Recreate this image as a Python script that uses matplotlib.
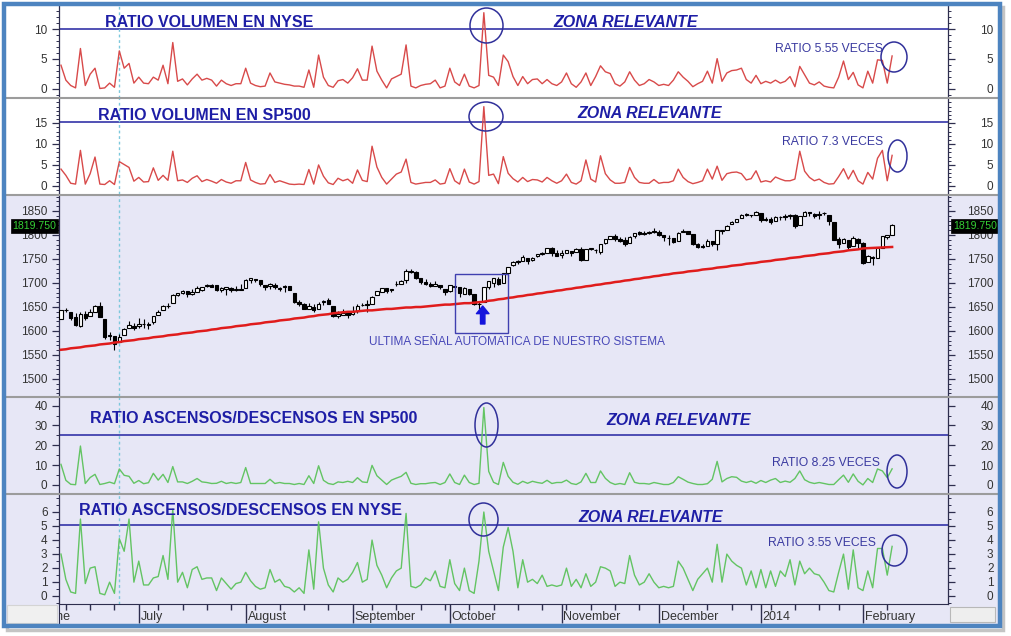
import numpy as np
import pandas as pd
import matplotlib
matplotlib.use('Agg')
import matplotlib.pyplot as plt
from matplotlib.patches import Rectangle, Ellipse, FancyArrowPatch
from matplotlib.lines import Line2D
from matplotlib.ticker import MultipleLocator, FixedLocator

plt.rcParams['font.family'] = ['Liberation Sans', 'DejaVu Sans']

# ---------------- DATA ----------------
HOLIDAYS = ['2013-07-04', '2013-09-02', '2013-11-28', '2013-12-25', '2014-01-01', '2014-01-20']
START, END = '2013-06-07', '2014-02-11'

MONTH_LABELS = ['June', 'July', 'August', 'September', 'October', 'November', 'December', '2014', 'February']

# Ratio volumen (up/down) NYSE
VOL_NYSE = [
    4.0, 1.5, 0.6, 0.2, 6.8, 0.6, 2.5, 3.5, 0.1, 0.2,
    1.0, 0.3, 6.4, 3.5, 4.3, 1.0, 2.0, 1.0, 0.9, 2.0,
    1.5, 4.0, 0.9, 7.8, 1.3, 1.7, 0.7, 1.7, 2.5, 1.5,
    1.8, 1.5, 0.5, 1.5, 0.9, 0.6, 0.9, 0.9, 3.5, 1.0,
    0.6, 0.4, 0.5, 2.7, 1.2, 1.0, 0.8, 0.7, 0.5, 0.5,
    0.3, 3.2, 0.3, 5.7, 2.0, 0.6, 0.3, 1.4, 1.6, 1.0,
    1.9, 3.4, 1.5, 1.5, 7.2, 3.0, 1.5, 0.2, 1.7, 2.1,
    2.5, 7.4, 0.5, 0.2, 0.6, 0.8, 0.9, 1.5, 0.2, 0.5,
    3.5, 1.2, 0.6, 2.5, 0.5, 0.2, 0.6, 12.8, 2.3, 2.0,
    0.6, 5.7, 4.6, 2.1, 0.6, 2.1, 0.9, 1.6, 1.7, 0.9,
    1.6, 0.9, 0.6, 1.2, 2.7, 0.9, 0.3, 1.2, 2.7, 0.6,
    2.1, 3.9, 2.9, 2.6, 0.9, 0.5, 1.2, 2.9, 1.5, 0.6,
    0.9, 1.6, 1.2, 0.6, 0.8, 0.6, 1.5, 2.9, 2.0, 1.3,
    0.4, 0.9, 1.3, 3.0, 1.0, 5.1, 1.3, 2.7, 3.1, 3.2,
    3.5, 1.6, 1.0, 2.3, 0.9, 1.3, 1.0, 1.5, 1.0, 1.3,
    2.1, 0.4, 3.8, 2.4, 1.0, 0.7, 1.2, 0.5, 0.3, 0.2,
    2.0, 4.7, 1.6, 2.8, 0.7, 0.2, 3.0, 1.0, 4.9, 4.8,
    1.0, 5.55]

# Ratio volumen SP500
VOL_SP500 = [
    4.0, 2.5, 0.6, 0.4, 8.5, 0.4, 2.9, 6.9, 0.4, 0.3,
    1.2, 0.3, 5.8, 5.1, 4.4, 1.1, 2.0, 0.9, 1.0, 4.3,
    1.3, 2.5, 1.3, 8.3, 1.2, 1.4, 0.8, 1.8, 2.4, 1.0,
    1.5, 1.1, 0.6, 1.5, 0.9, 0.6, 1.2, 1.2, 5.6, 1.4,
    0.8, 0.4, 0.5, 2.7, 0.8, 1.2, 0.8, 0.4, 0.3, 0.4,
    0.3, 3.9, 0.4, 5.0, 2.3, 0.7, 0.3, 1.8, 1.2, 1.6,
    0.6, 3.8, 1.3, 1.0, 9.5, 4.5, 2.0, 0.4, 1.6, 2.8,
    3.3, 6.4, 0.8, 0.4, 0.6, 0.8, 0.8, 1.4, 0.4, 0.6,
    4.1, 1.2, 0.4, 4.0, 0.9, 0.4, 1.0, 19.0, 2.5, 2.8,
    0.5, 7.0, 3.0, 1.7, 0.9, 2.0, 1.0, 1.5, 1.4, 0.9,
    2.0, 1.2, 0.6, 1.2, 2.8, 0.8, 0.4, 1.2, 6.2, 1.6,
    0.9, 7.2, 2.9, 1.4, 0.6, 0.6, 0.8, 4.4, 2.0, 0.8,
    0.6, 0.6, 1.5, 0.6, 0.8, 0.8, 1.2, 4.0, 2.0, 1.0,
    0.5, 0.8, 1.2, 4.0, 1.6, 4.7, 1.3, 2.9, 3.2, 3.3,
    2.9, 1.4, 1.7, 3.6, 0.9, 1.2, 0.9, 2.1, 1.6, 1.2,
    1.2, 1.6, 8.3, 3.5, 2.0, 1.2, 1.6, 0.8, 0.4, 0.5,
    2.2, 4.1, 1.6, 3.7, 1.2, 0.4, 3.2, 1.6, 6.6, 8.5,
    1.2, 7.3]

# Ratio ascensos/descensos SP500
AD_SP500 = [
    10.5, 2.5, 0.5, 0.3, 19.7, 0.9, 3.9, 5.5, 0.4, 0.9,
    1.6, 0.8, 8.2, 5.0, 4.5, 1.0, 2.4, 0.8, 1.3, 6.0,
    2.6, 5.5, 1.4, 9.4, 1.7, 1.7, 0.9, 2.0, 3.4, 1.7,
    1.4, 0.9, 1.0, 2.0, 0.9, 1.4, 0.9, 1.4, 8.9, 0.9,
    0.9, 0.9, 0.9, 3.0, 0.9, 1.4, 0.9, 0.9, 0.4, 0.9,
    0.4, 4.8, 0.9, 9.8, 2.5, 0.9, 0.4, 1.7, 1.4, 2.0,
    1.4, 3.8, 1.7, 1.4, 10.0, 4.8, 2.6, 0.4, 2.6, 3.6,
    4.5, 6.5, 1.0, 0.4, 0.8, 0.8, 1.2, 1.4, 0.4, 1.4,
    5.7, 1.4, 0.4, 5.1, 1.4, 0.4, 1.0, 39.0, 7.0, 1.5,
    0.4, 11.5, 4.5, 1.5, 0.5, 2.0, 1.0, 2.0, 1.4, 1.0,
    2.5, 0.9, 1.4, 1.4, 2.6, 0.9, 0.4, 1.7, 6.0, 1.4,
    1.4, 7.2, 3.5, 1.4, 0.4, 0.9, 0.4, 6.3, 1.5, 0.9,
    0.9, 0.6, 1.4, 0.9, 0.4, 0.4, 1.4, 4.3, 3.0, 1.6,
    0.9, 0.4, 0.4, 0.8, 3.0, 12.0, 1.7, 3.4, 4.3, 4.0,
    2.1, 1.4, 2.1, 1.0, 2.4, 1.4, 2.6, 3.4, 1.4, 2.1,
    1.5, 3.4, 7.2, 2.8, 1.5, 0.9, 1.4, 0.9, 0.4, 0.4,
    2.8, 5.1, 1.5, 5.7, 2.0, 0.2, 3.4, 1.4, 8.2, 7.2,
    3.8, 8.25]

# Ratio ascensos/descensos NYSE
AD_NYSE = [
    3.0, 1.2, 0.3, 0.2, 5.5, 0.9, 2.0, 2.1, 0.2, 0.1,
    1.0, 0.2, 4.1, 3.2, 5.5, 1.0, 2.5, 0.8, 0.8, 1.3,
    1.4, 2.9, 1.2, 6.2, 1.0, 1.7, 0.6, 1.9, 2.1, 1.2,
    1.3, 1.3, 0.4, 1.3, 0.9, 0.5, 0.9, 1.0, 1.7, 1.1,
    0.7, 0.5, 0.6, 1.9, 1.0, 1.2, 0.7, 0.6, 0.3, 0.6,
    0.2, 3.3, 0.5, 5.3, 2.0, 0.8, 0.3, 1.3, 1.0, 1.2,
    1.7, 2.4, 1.0, 1.2, 4.0, 2.2, 1.5, 0.6, 1.3, 1.8,
    2.0, 5.9, 0.7, 0.6, 0.8, 1.3, 1.1, 1.8, 0.7, 0.6,
    2.6, 0.9, 0.4, 2.0, 0.4, 0.2, 2.5, 6.0, 3.2, 1.8,
    0.4, 3.5, 4.9, 3.2, 0.6, 2.6, 1.0, 1.2, 0.9, 1.5,
    0.7, 0.8, 0.7, 0.8, 2.0, 0.7, 1.2, 0.6, 1.6, 0.7,
    1.0, 2.1, 2.0, 1.8, 0.7, 1.0, 0.9, 2.9, 1.5, 0.8,
    1.0, 1.6, 1.0, 0.6, 0.7, 0.6, 0.7, 2.5, 2.0, 1.2,
    0.4, 1.2, 1.6, 2.0, 1.0, 3.7, 1.0, 3.0, 2.5, 2.2,
    2.0, 0.8, 1.8, 0.6, 1.9, 0.6, 1.8, 0.7, 1.8, 1.4,
    2.6, 0.8, 2.5, 1.6, 2.0, 1.6, 1.5, 1.0, 0.4, 0.3,
    1.7, 3.0, 0.5, 3.3, 0.6, 0.4, 1.8, 0.6, 3.4, 3.4,
    1.5, 3.55]

# S&P 500 daily candles
OPEN = [
    1625.3, 1644.7, 1638.6, 1629.9, 1609.9, 1635.5, 1630.6, 1639.8, 1651.8, 1624.6,
    1588.6, 1588.8, 1577.5, 1592.3, 1606.4, 1611.1, 1609.8, 1614.3, 1611.5, 1618.7,
    1634.2, 1642.9, 1651.6, 1657.4, 1675.3, 1679.6, 1682.7, 1677.9, 1681.0, 1686.2,
    1694.4, 1696.1, 1696.1, 1685.2, 1687.3, 1690.3, 1685.9, 1686.5, 1689.4, 1706.1,
    1708.0, 1705.8, 1695.5, 1693.4, 1696.1, 1688.4, 1690.7, 1693.4, 1679.6, 1661.2,
    1655.3, 1646.8, 1650.7, 1645.0, 1659.9, 1664.3, 1652.5, 1630.3, 1633.5, 1638.9,
    1635.9, 1640.7, 1653.3, 1656.0, 1656.9, 1675.1, 1681.0, 1689.2, 1685.0, 1697.7,
    1697.7, 1705.7, 1725.4, 1722.4, 1711.4, 1702.6, 1698.0, 1694.1, 1695.5, 1687.3,
    1682.4, 1691.9, 1692.4, 1677.9, 1687.2, 1676.2, 1657.0, 1660.9, 1691.1, 1699.9,
    1709.2, 1700.5, 1720.2, 1736.7, 1745.2, 1746.5, 1752.3, 1747.5, 1756.0, 1759.4,
    1762.9, 1772.3, 1763.2, 1758.7, 1763.4, 1765.7, 1765.0, 1770.7, 1748.4, 1770.0,
    1769.5, 1764.4, 1782.8, 1790.7, 1798.8, 1790.8, 1789.6, 1783.5, 1797.2, 1806.3,
    1802.9, 1803.5, 1808.0, 1806.6, 1800.1, 1794.1, 1792.8, 1788.4, 1806.6, 1807.6,
    1802.8, 1781.7, 1777.0, 1777.5, 1786.5, 1781.5, 1809.0, 1810.4, 1822.9, 1828.0,
    1835.0, 1843.0, 1841.5, 1842.6, 1845.9, 1833.2, 1832.3, 1828.7, 1837.9, 1839.0,
    1840.1, 1841.3, 1821.4, 1840.5, 1848.0, 1844.2, 1841.1, 1844.7, 1842.3, 1827.0,
    1791.0, 1783.0, 1790.2, 1777.0, 1790.9, 1782.7, 1743.8, 1753.4, 1753.0, 1773.9,
    1796.2, 1800.5]
HIGH = [
    1644.4, 1648.7, 1640.1, 1637.7, 1640.4, 1640.8, 1646.5, 1654.2, 1660.4, 1624.6,
    1598.2, 1588.8, 1593.8, 1606.8, 1620.1, 1615.9, 1626.6, 1624.3, 1618.9, 1632.1,
    1644.7, 1654.2, 1657.9, 1676.6, 1680.2, 1684.5, 1683.7, 1687.2, 1693.1, 1692.1,
    1697.6, 1698.4, 1696.8, 1690.9, 1691.9, 1690.9, 1693.4, 1698.4, 1707.9, 1709.7,
    1709.2, 1705.8, 1695.5, 1700.2, 1699.4, 1691.5, 1696.8, 1693.4, 1679.6, 1663.6,
    1659.2, 1658.9, 1656.9, 1659.6, 1664.9, 1669.5, 1652.5, 1641.2, 1645.0, 1640.1,
    1651.4, 1655.7, 1659.2, 1664.0, 1672.4, 1684.1, 1689.1, 1690.0, 1688.0, 1705.0,
    1705.5, 1729.4, 1729.9, 1725.2, 1711.4, 1707.6, 1701.7, 1703.9, 1695.5, 1687.3,
    1696.6, 1693.9, 1692.4, 1691.6, 1687.2, 1676.8, 1662.5, 1692.6, 1703.4, 1711.0,
    1711.6, 1721.8, 1733.4, 1745.3, 1747.8, 1759.3, 1752.3, 1753.6, 1759.8, 1765.0,
    1772.1, 1775.2, 1768.5, 1768.0, 1768.8, 1767.0, 1773.7, 1774.5, 1770.8, 1773.4,
    1771.8, 1782.0, 1791.5, 1798.2, 1802.3, 1795.5, 1795.7, 1798.2, 1804.8, 1808.1,
    1808.4, 1808.4, 1813.6, 1810.0, 1800.1, 1799.8, 1792.8, 1806.0, 1811.5, 1808.5,
    1803.0, 1783.0, 1780.9, 1792.2, 1786.8, 1811.1, 1810.9, 1820.0, 1829.8, 1833.3,
    1842.8, 1844.9, 1842.5, 1849.4, 1845.9, 1838.2, 1837.2, 1840.1, 1840.0, 1843.2,
    1843.8, 1843.5, 1839.3, 1850.8, 1848.0, 1846.0, 1849.3, 1846.9, 1842.3, 1827.0,
    1796.0, 1793.9, 1790.2, 1798.8, 1793.9, 1784.8, 1758.7, 1755.8, 1774.1, 1798.0,
    1799.9, 1823.5]
LOW = [
    1625.3, 1639.3, 1622.9, 1610.9, 1608.1, 1623.0, 1630.3, 1639.8, 1628.9, 1584.3,
    1581.3, 1560.3, 1577.1, 1592.3, 1606.4, 1601.5, 1606.5, 1606.8, 1604.6, 1614.7,
    1634.2, 1642.9, 1647.7, 1657.4, 1672.3, 1677.9, 1671.8, 1675.2, 1681.0, 1684.1,
    1690.7, 1691.8, 1684.0, 1680.7, 1676.0, 1681.9, 1682.9, 1684.9, 1689.4, 1700.7,
    1701.6, 1693.3, 1684.9, 1687.4, 1688.0, 1683.4, 1682.2, 1684.8, 1658.6, 1652.6,
    1646.1, 1646.1, 1639.4, 1645.0, 1653.7, 1656.0, 1629.1, 1627.5, 1633.5, 1628.1,
    1633.4, 1637.4, 1653.1, 1640.6, 1656.9, 1675.1, 1681.0, 1678.7, 1682.2, 1693.6,
    1697.7, 1700.4, 1721.1, 1708.9, 1697.1, 1694.9, 1691.9, 1693.1, 1687.1, 1675.0,
    1682.1, 1680.3, 1670.4, 1677.9, 1675.0, 1655.0, 1646.5, 1660.9, 1688.1, 1692.1,
    1695.5, 1700.5, 1714.1, 1735.7, 1740.2, 1746.5, 1740.5, 1745.5, 1753.6, 1757.7,
    1762.9, 1757.2, 1755.7, 1752.7, 1761.6, 1755.8, 1764.4, 1746.2, 1747.6, 1767.8,
    1762.5, 1760.6, 1780.2, 1790.7, 1788.4, 1784.7, 1777.2, 1783.5, 1794.7, 1800.6,
    1800.8, 1802.8, 1803.8, 1798.6, 1787.9, 1779.1, 1783.4, 1788.4, 1806.6, 1801.8,
    1780.1, 1772.3, 1772.4, 1777.5, 1777.2, 1768.0, 1801.7, 1810.4, 1822.9, 1828.0,
    1835.0, 1838.8, 1837.2, 1842.4, 1827.7, 1829.1, 1823.7, 1828.7, 1831.4, 1830.4,
    1834.2, 1815.5, 1821.4, 1840.5, 1840.3, 1835.2, 1832.4, 1840.9, 1820.1, 1790.3,
    1772.9, 1783.0, 1770.6, 1777.0, 1772.3, 1739.7, 1743.8, 1737.9, 1752.6, 1773.9,
    1791.8, 1800.5]
CLOSE = [
    1643.4, 1642.8, 1626.7, 1612.5, 1636.4, 1626.7, 1639.0, 1651.8, 1628.9, 1588.2,
    1592.4, 1573.1, 1588.0, 1603.3, 1613.2, 1606.3, 1614.1, 1614.1, 1615.4, 1631.9,
    1640.5, 1652.3, 1652.6, 1675.0, 1680.2, 1682.5, 1676.3, 1680.9, 1689.4, 1692.1,
    1695.5, 1692.4, 1685.9, 1690.3, 1691.6, 1685.3, 1686.0, 1685.7, 1706.9, 1709.7,
    1707.1, 1697.4, 1690.9, 1697.5, 1691.4, 1689.5, 1694.2, 1685.4, 1661.3, 1655.8,
    1646.1, 1652.4, 1642.8, 1657.0, 1663.5, 1656.8, 1630.5, 1635.0, 1638.2, 1633.0,
    1639.8, 1653.1, 1655.1, 1655.2, 1671.7, 1684.0, 1689.1, 1683.4, 1688.0, 1697.6,
    1704.8, 1725.5, 1722.3, 1709.9, 1701.8, 1697.4, 1692.8, 1698.7, 1691.8, 1681.6,
    1695.0, 1693.9, 1678.7, 1690.5, 1676.1, 1655.5, 1656.4, 1692.6, 1703.2, 1710.1,
    1698.1, 1721.5, 1733.2, 1744.5, 1744.7, 1754.7, 1746.4, 1752.1, 1759.8, 1762.1,
    1772.0, 1763.3, 1756.5, 1761.6, 1767.9, 1763.0, 1770.5, 1747.2, 1770.6, 1771.9,
    1767.7, 1782.0, 1790.6, 1798.2, 1791.5, 1787.9, 1781.4, 1795.9, 1804.8, 1802.5,
    1802.8, 1807.2, 1805.8, 1800.9, 1795.2, 1792.8, 1785.0, 1805.1, 1808.4, 1802.6,
    1782.2, 1775.5, 1775.3, 1786.5, 1781.0, 1810.7, 1809.6, 1818.3, 1828.0, 1833.3,
    1842.0, 1841.4, 1841.1, 1848.4, 1832.0, 1831.4, 1826.8, 1837.9, 1837.5, 1838.1,
    1842.4, 1819.2, 1838.9, 1848.4, 1845.9, 1838.7, 1843.8, 1844.9, 1828.5, 1790.3,
    1781.6, 1792.5, 1774.2, 1794.2, 1782.6, 1741.9, 1755.2, 1751.6, 1773.4, 1797.0,
    1799.8, 1819.75]

# Long moving average (red line)
MOV_AVG = [
    1561, 1562, 1564, 1565, 1566, 1568, 1569, 1570, 1572, 1573,
    1574, 1576, 1577, 1579, 1580, 1581, 1583, 1584, 1585, 1587,
    1588, 1589, 1591, 1592, 1593, 1595, 1596, 1597, 1599, 1600,
    1601, 1603, 1604, 1606, 1607, 1608, 1610, 1611, 1612, 1614,
    1615, 1616, 1618, 1619, 1620, 1622, 1623, 1624, 1626, 1627,
    1628, 1630, 1631, 1633, 1634, 1635, 1637, 1638, 1639, 1640,
    1640, 1641, 1642, 1643, 1643, 1644, 1645, 1646, 1646, 1647,
    1648, 1649, 1649, 1650, 1650, 1651, 1652, 1653, 1654, 1655,
    1655, 1656, 1657, 1658, 1658, 1659, 1660, 1661, 1663, 1664,
    1666, 1667, 1669, 1670, 1672, 1673, 1675, 1676, 1678, 1679,
    1681, 1682, 1684, 1685, 1687, 1688, 1690, 1691, 1693, 1694,
    1696, 1697, 1699, 1700, 1702, 1703, 1705, 1706, 1708, 1709,
    1711, 1712, 1714, 1715, 1717, 1718, 1720, 1721, 1722, 1724,
    1725, 1726, 1728, 1729, 1730, 1732, 1733, 1734, 1736, 1737,
    1738, 1740, 1741, 1742, 1744, 1745, 1746, 1748, 1749, 1750,
    1752, 1753, 1754, 1756, 1757, 1758, 1760, 1761, 1762, 1764,
    1765, 1766, 1768, 1769, 1770, 1772, 1772.5, 1773, 1773.5, 1774,
    1774.5, 1775]

ZONE_LEVELS = {'p1': 10, 'p2': 15.4, 'p4': 25, 'p5': 5.1}
MARK_DAY = '2013-06-25'

# ---------------- LAYOUT ----------------
W, H = 1012, 636
fig = plt.figure(figsize=(W / 100, H / 100), dpi=100)
fig.patch.set_facecolor('white')


def fx(x):
    return x / W


def fy(y):
    return 1 - y / H


dates = pd.bdate_range(START, END)
dates = dates[~dates.isin(pd.to_datetime(HOLIDAYS))]
n = len(dates)
idx = np.arange(n)

XL, XR = 59, 948
XLIM = (-0.41, 182.5)
LAV = '#e7e7f6'
AXC = '#2e2e4e'
TXT = '#333333'
ZONEC = '#3434a8'
TITC = '#1e1ea6'

rows = [  # top, bottom, background
    (6, 97.5, 'white'),
    (97.5, 194, 'white'),
    (194, 396, LAV),
    (396, 493.5, LAV),
    (493.5, 604, LAV),
    (604, 624, LAV),
]
for t, b, c in rows:
    fig.add_artist(Rectangle((fx(6), fy(b)), (998 - 6) / W, (b - t) / H,
                             transform=fig.transFigure, facecolor=c,
                             edgecolor='none', zorder=-5))


def make_ax(top, bot, ylim, bg, minor, labels, fmt=lambda v: f'{v:g}'):
    ax = fig.add_axes([fx(XL), fy(bot), (XR - XL) / W, (bot - top) / H])
    ax.set_xlim(*XLIM)
    ax.set_ylim(*ylim)
    ax.set_facecolor(bg)
    for s in ['top', 'bottom']:
        ax.spines[s].set_visible(False)
    for s in ['left', 'right']:
        ax.spines[s].set_color(AXC)
        ax.spines[s].set_linewidth(0.9)
    ax.set_xticks([])
    ax.yaxis.set_major_locator(FixedLocator(labels))
    ax.yaxis.set_minor_locator(MultipleLocator(minor))
    ax.tick_params(axis='y', which='both', direction='out', left=True, right=True,
                   labelleft=False, labelright=False, colors=AXC)
    ax.tick_params(axis='y', which='major', length=5, width=0.9)
    ax.tick_params(axis='y', which='minor', length=2.5, width=0.7)
    xl = (47.5 - XL) / (XR - XL)
    xr = (993.5 - XL) / (XR - XL)
    for v in labels:
        for xa in (xl, xr):
            ax.annotate(fmt(v), xy=(xa, v), xycoords=('axes fraction', 'data'),
                        xytext=(0, -3.0), textcoords='offset points',
                        ha='right', va='baseline', fontsize=8.5, color=TXT,
                        annotation_clip=False)
    return ax


ax1 = make_ax(6, 97.5, (-1.41, 13.92), 'white', 1, [0, 5, 10])
ax2 = make_ax(97.5, 194, (-1.98, 21.2), 'white', 1, [0, 5, 10, 15])
ax3 = make_ax(194, 396, (1464.7, 1885.3), LAV, 10, list(range(1500, 1851, 50)))
ax4 = make_ax(396, 493.5, (-4.12, 44.8), LAV, 5, [0, 10, 20, 30, 40])
ax5 = make_ax(493.5, 604, (-0.557, 7.32), LAV, 0.5, [0, 1, 2, 3, 4, 5, 6])

RED = '#d84a4a'
GREEN = '#63c463'
ax1.plot(idx, VOL_NYSE, color=RED, lw=1.0, zorder=3)
ax2.plot(idx, VOL_SP500, color=RED, lw=1.0, zorder=3)
ax4.plot(idx, AD_SP500, color=GREEN, lw=1.0, zorder=3)
ax5.plot(idx, AD_NYSE, color=GREEN, lw=1.0, zorder=3)

ax1.axhline(ZONE_LEVELS['p1'], color=ZONEC, lw=1.2, zorder=2)
ax2.axhline(ZONE_LEVELS['p2'], color=ZONEC, lw=1.2, zorder=2)
ax4.axhline(ZONE_LEVELS['p4'], color=ZONEC, lw=1.2, zorder=2)
ax5.axhline(ZONE_LEVELS['p5'], color=ZONEC, lw=1.2, zorder=2)

# candles
o = np.array(OPEN); h = np.array(HIGH); l = np.array(LOW); c = np.array(CLOSE)
ax3.vlines(idx, l, h, color='black', lw=0.8, zorder=3)
for i in range(n):
    up = c[i] >= o[i]
    lo = min(o[i], c[i])
    ht = max(abs(c[i] - o[i]), 0.8)
    ax3.add_patch(Rectangle((i - 0.36, lo), 0.72, ht,
                            facecolor='white' if up else 'black',
                            edgecolor='black', lw=0.8, zorder=4))
ax3.plot(idx, MOV_AVG, color='#e01c1c', lw=1.8, zorder=5)

# cyan dotted marker line
mark_i = int(np.where(dates == pd.Timestamp(MARK_DAY))[0][0])
for ax in (ax1, ax2, ax3, ax4, ax5):
    ax.axvline(mark_i, color='#7cc8dc', lw=1.0, ls=(0, (2, 2)), zorder=2)

# last price labels
last = CLOSE[-1]
for xa in ((34.5 - XL) / (XR - XL), (975 - XL) / (XR - XL)):
    ax3.annotate(f'{last:.3f}', xy=(xa, last), xycoords=('axes fraction', 'data'),
                 xytext=(0, -0.5), textcoords='offset points',
                 ha='center', va='center', fontsize=7.6, color='#35d035',
                 annotation_clip=False, zorder=8,
                 bbox=dict(boxstyle='square,pad=0.18', fc='black', ec='black', lw=0.5))

# x strip
axx = fig.add_axes([fx(XL), fy(624), (XR - XL) / W, 20 / H])
axx.set_xlim(*XLIM)
axx.set_ylim(0, 1)
axx.set_facecolor(LAV)
for s in ['bottom', 'right']:
    axx.spines[s].set_visible(False)
axx.spines['top'].set_color(AXC)
axx.spines['left'].set_color(AXC)
axx.set_xticks([]); axx.set_yticks([])
months = dates.to_period('M')
m_start = [i for i in range(1, n) if months[i] != months[i - 1]]
weeks = dates.to_period('W')
w_start = [i for i in range(1, n) if weeks[i] != weeks[i - 1] and i not in m_start]
axx.vlines(m_start, 0.05, 1, color=AXC, lw=1.0)
axx.vlines(w_start, 0.72, 1, color=AXC, lw=1.0)
label_pos = [-4] + m_start
for p, lab in zip(label_pos, MONTH_LABELS):
    axx.annotate(lab, xy=(p, 0.2), xycoords='data', xytext=(1.3, 0),
                 textcoords='offset points', ha='left', va='baseline',
                 fontsize=9, color=TXT, annotation_clip=False, clip_on=True)

# bottom corner boxes
fig.add_artist(Rectangle((fx(7), fy(623)), 50 / W, 18 / H, transform=fig.transFigure,
                         facecolor='#f0f0f0', edgecolor='#d4d4d4', lw=0.8, zorder=1))
fig.add_artist(Rectangle((fx(950), fy(622)), 45 / W, 15 / H, transform=fig.transFigure,
                         facecolor='#eeeeee', edgecolor='#b8b8b8', lw=0.8, zorder=1))

# separators
for y in (97.5, 194.5, 396.5, 494):
    fig.add_artist(Line2D([fx(6), fx(998)], [fy(y), fy(y)], transform=fig.transFigure,
                          color='#9c9c9c', lw=1.5, zorder=6))


def ftext(x, yb, s, size, color, weight='normal', style='normal'):
    fig.text(fx(x), fy(yb), s, ha='left', va='baseline', fontsize=size,
             color=color, fontweight=weight, fontstyle=style, zorder=7)


ftext(105, 27, 'RATIO VOLUMEN EN NYSE', 11.5, TITC, 'bold')
ftext(553, 27, 'ZONA RELEVANTE', 11.5, TITC, 'bold', 'italic')
ftext(775, 52.3, 'RATIO 5.55 VECES', 8.7, '#3a3aa0')

ftext(98, 120.4, 'RATIO VOLUMEN EN SP500', 11.5, TITC, 'bold')
ftext(577, 118, 'ZONA RELEVANTE', 11.5, TITC, 'bold', 'italic')
ftext(782, 145.1, 'RATIO 7.3 VECES', 8.7, '#3a3aa0')

ftext(90, 422.7, 'RATIO ASCENSOS/DESCENSOS EN SP500', 11.5, TITC, 'bold')
ftext(606, 424.7, 'ZONA RELEVANTE', 11.5, TITC, 'bold', 'italic')
ftext(772, 465.8, 'RATIO 8.25 VECES', 8.7, '#3a3aa0')

ftext(79, 515.2, 'RATIO ASCENSOS/DESCENSOS EN NYSE', 11.5, TITC, 'bold')
ftext(578, 521.7, 'ZONA RELEVANTE', 11.5, TITC, 'bold', 'italic')
ftext(768, 546, 'RATIO 3.55 VECES', 8.7, '#3a3aa0')

ftext(369, 345.2, 'ULTIMA SEÑAL AUTOMATICA DE NUESTRO SISTEMA', 8.5, '#4848b8')

# circles
for cx, cy, w, hh in [(486.5, 25.5, 33, 35), (894, 57, 26, 30),
                      (486, 116.5, 34, 29), (897.5, 156, 19, 32),
                      (486.5, 425, 23, 44), (897, 471.5, 20, 33),
                      (483.5, 519.5, 29, 33), (894.5, 550.5, 25, 31)]:
    fig.add_artist(Ellipse((fx(cx), fy(cy)), w / W, hh / H, transform=fig.transFigure,
                           fill=False, edgecolor='#30309a', lw=1.1, zorder=7))

# signal box and arrow
fig.add_artist(Rectangle((fx(455), fy(333)), 53 / W, 59.3 / H, transform=fig.transFigure,
                         fill=False, edgecolor='#4040b0', lw=1.0, zorder=7))
fig.add_artist(FancyArrowPatch((fx(482.7), fy(324)), (fx(482.7), fy(306)),
                               transform=fig.transFigure,
                               arrowstyle='simple,head_length=0.55,head_width=0.9,tail_width=0.32',
                               mutation_scale=10, color='#1414dc', shrinkA=0, shrinkB=0,
                               zorder=8))

# outer frame with shadow
fig.add_artist(Rectangle((fx(7), fy(630)), 996 / W, 623 / H, transform=fig.transFigure,
                         fill=False, edgecolor='#c4c4c4', lw=2.5, zorder=-6))
fig.add_artist(Rectangle((fx(4), fy(626)), 996.5 / W, 622 / H, transform=fig.transFigure,
                         fill=False, edgecolor='#4d84c0', lw=3.2, zorder=10))

fig.savefig('out.png', dpi=100)
